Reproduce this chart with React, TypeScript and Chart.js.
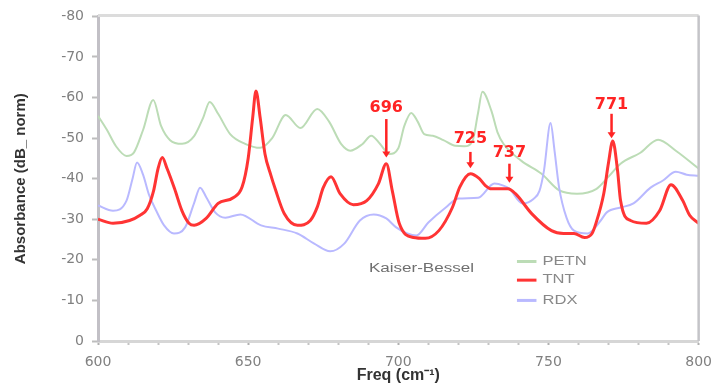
import React, { useEffect, useRef } from 'react';
import { Chart, registerables } from 'chart.js';
Chart.register(...registerables);

// ---- data ----
const seriesNames = ['PETN', 'TNT', 'RDX'];

const petnFreq = [600, 603, 606, 609.5, 612, 615, 618.4, 621, 624, 628, 632, 635, 637.2, 640, 644, 649, 654, 658, 662.5, 667.4, 673, 677, 681, 684, 688, 691, 694, 697, 700, 702, 704.3, 706.5, 708.6, 711.5, 715, 719, 722, 724.7, 726.5, 728, 731, 733, 735, 741, 747.7, 753.6, 759.5, 766, 770, 774, 780.6, 786.5, 792.4, 800];
const petnVals = [-55.5, -52, -48, -45.6, -46.5, -52, -59.4, -53, -49.5, -48.6, -50.5, -55, -58.9, -56, -51, -48.6, -47.6, -50, -55.7, -52.5, -57.2, -54, -48.5, -46.9, -48.5, -50.6, -48.5, -46.1, -47.5, -53, -56.2, -54, -51, -50.6, -49.5, -48.1, -48, -49.3, -56, -61.4, -56.7, -51.5, -48.6, -44.4, -41.2, -37.1, -36.3, -37.5, -40.5, -43.7, -46.4, -49.6, -46.9, -42.5];

const tntFreq = [600, 605, 610.5, 614, 616.4, 618.5, 620, 621.4, 623, 625.5, 628, 630.3, 632, 636, 640, 645, 648, 650, 651.5, 652.6, 654, 655.6, 657.5, 659, 662, 666.4, 670.7, 673, 675, 677.6, 680.6, 685, 689.5, 693.4, 696, 698, 700.3, 705, 709, 713.5, 718, 720.5, 724, 727, 729, 731, 733.5, 736.5, 739, 744.4, 751, 755, 758.5, 762, 764.5, 765.8, 768.4, 770, 771.4, 773, 774, 777.3, 782.6, 787, 790.8, 794.7, 797, 800];
const tntVals = [-30, -29, -29.7, -31, -32.6, -37, -42.5, -45.2, -42.5, -37.5, -32, -29, -28.5, -30.2, -33.9, -35.3, -38, -45, -55, -61.6, -55, -46.1, -41, -37.5, -31.4, -28.5, -29.7, -33, -37.8, -40.5, -36.3, -33.6, -34.6, -38.8, -43.7, -37, -29, -25.5, -25.3, -27.2, -32.9, -38, -41.2, -40, -38.3, -37.5, -37.5, -37.5, -36.3, -31.4, -27.2, -26.5, -26.5, -25.5, -26.5, -29, -36.3, -44, -49.3, -42, -34.6, -29.7, -29, -32.1, -38.5, -34.6, -31, -29];

const rdxFreq = [600, 605, 609.5, 611.5, 613, 615, 617, 619.4, 622, 625.3, 629, 632, 634, 636, 639, 642.4, 647.4, 654.3, 660, 666.4, 672, 677.3, 682, 687.2, 691.8, 696, 699.3, 703, 706, 710, 715.8, 720, 726.6, 732, 735, 737, 741.4, 745, 747, 748.5, 750.7, 752, 753.5, 756, 758.5, 763, 767.4, 769.4, 774, 778.3, 784, 788, 792.4, 796, 800];
const rdxVals = [-33.4, -32.1, -34.6, -40, -44, -41, -36, -32.1, -28.5, -26.5, -28, -34, -37.8, -35.5, -31.7, -30.4, -31.2, -28.5, -27.7, -26.5, -24, -22.1, -24, -29.7, -31.2, -30.2, -28, -26.5, -26, -29.2, -32.9, -35.1, -35.3, -38.8, -38.3, -37.5, -33.9, -35, -37, -42, -53.7, -47, -38, -30.4, -27.2, -26.5, -29.7, -31.7, -32.9, -33.9, -37.8, -39.5, -41.7, -41, -40.7];

// peak annotations
const annoLabels = ['696', '725', '737', '771'];
const annoFreq = [696, 724, 737, 771];
const annoLabelVal = [-57.4, -49.8, -46.3, -58.3];
const annoStartVal = [-54.7, -46.6, -43.7, -56];
const annoTipVal = [-45.2, -42.6, -39, -50];

const xTitle = 'Freq (cm⁻¹)';
const yTitle = 'Absorbance (dB_ norm)';
const windowNote = 'Kaiser-Bessel';

const COLORS = ['#bcdcb6', '#ff3434', '#b9b9ff'];
const WIDTHS = [2, 3, 2];

const toPts = (xs: number[], ys: number[]) => xs.map((x, i) => ({ x, y: ys[i] }));

const overlay = {
  id: 'overlay',
  afterDatasetsDraw(chart: any) {
    const { ctx, chartArea: a, scales } = chart;
    const x = scales.x, y = scales.y;
    ctx.save();
    // frame top and right
    ctx.strokeStyle = '#dcdcdc';
    ctx.lineWidth = 3;
    ctx.beginPath(); ctx.moveTo(a.left, a.top - 1); ctx.lineTo(a.right, a.top - 1); ctx.stroke();
    ctx.strokeStyle = '#c4c4c8';
    ctx.lineWidth = 2.5;
    ctx.beginPath(); ctx.moveTo(a.right, a.top - 1); ctx.lineTo(a.right, a.bottom); ctx.stroke();

    // annotations
    ctx.fillStyle = '#ff2424';
    ctx.strokeStyle = '#ff2424';
    ctx.font = 'bold 16px "DejaVu Sans"';
    ctx.textAlign = 'center';
    ctx.textBaseline = 'middle';
    annoLabels.forEach((lab, i) => {
      const px = x.getPixelForValue(annoFreq[i]);
      const ly = y.getPixelForValue(annoLabelVal[i]);
      const ys = y.getPixelForValue(annoStartVal[i]);
      const yt = y.getPixelForValue(annoTipVal[i]);
      ctx.fillText(lab, px, ly);
      ctx.lineWidth = 2.5;
      ctx.beginPath(); ctx.moveTo(px, ys); ctx.lineTo(px, yt - 5); ctx.stroke();
      ctx.beginPath();
      ctx.moveTo(px - 4, yt - 6); ctx.lineTo(px + 4, yt - 6); ctx.lineTo(px, yt); ctx.closePath();
      ctx.fill();
    });

    // custom legend
    const lx0 = x.getPixelForValue(739.5), lx1 = x.getPixelForValue(746);
    const legVals = [-19.6, -15, -10];
    ctx.textAlign = 'left';
    ctx.font = '12px Arial';
    seriesNames.forEach((n, i) => {
      const ly = y.getPixelForValue(legVals[i]);
      ctx.strokeStyle = COLORS[i];
      ctx.lineWidth = 3;
      ctx.beginPath(); ctx.moveTo(lx0, ly); ctx.lineTo(lx1, ly); ctx.stroke();
      ctx.save();
      ctx.translate(lx1 + 6, ly);
      ctx.scale(1.38, 1);
      ctx.fillStyle = '#888888';
      ctx.fillText(n, 0, 0);
      ctx.restore();
    });

    // window note
    ctx.save();
    ctx.translate(x.getPixelForValue(690.2), y.getPixelForValue(-17.8));
    ctx.scale(1.42, 1);
    ctx.fillStyle = '#6f6f6f';
    ctx.font = '12px Arial';
    ctx.textAlign = 'left';
    ctx.fillText(windowNote, 0, 0);
    ctx.restore();

    ctx.restore();
  },
};

export default function App() {
  const ref = useRef<HTMLCanvasElement>(null);
  useEffect(() => {
    if (!ref.current) return;
    const chart = new Chart(ref.current, {
      type: 'line',
      data: {
        datasets: [
          { label: seriesNames[0], data: toPts(petnFreq, petnVals), borderColor: COLORS[0], borderWidth: WIDTHS[0], order: 2 },
          { label: seriesNames[1], data: toPts(tntFreq, tntVals), borderColor: COLORS[1], borderWidth: WIDTHS[1], order: 0 },
          { label: seriesNames[2], data: toPts(rdxFreq, rdxVals), borderColor: COLORS[2], borderWidth: WIDTHS[2], order: 1 },
        ].map((d) => ({ ...d, pointRadius: 0, fill: false, cubicInterpolationMode: 'monotone' as const, tension: 0.4 })),
      },
      options: {
        animation: false,
        responsive: false,
        devicePixelRatio: 1,
        layout: { padding: { left: 0, right: 15, top: 15, bottom: 0 } },
        plugins: { legend: { display: false }, tooltip: { enabled: false } },
        scales: {
          x: {
            type: 'linear',
            min: 600,
            max: 800,
            afterFit: (s: any) => { s.height = 46; },
            ticks: {
              stepSize: 10,
              autoSkip: false,
              maxRotation: 0,
              padding: 9,
              color: '#808080',
              font: { family: '"DejaVu Sans"', size: 14 },
              callback: (v: any) => (Number(v) % 50 === 0 ? String(v) : ''),
            },
            grid: {
              drawOnChartArea: false,
              drawTicks: true,
              tickLength: 4,
              tickWidth: 2,
              tickColor: (c: any) => (c.tick && c.tick.value % 50 === 0 ? '#b0b0b0' : '#c4c4c4'),
            },
            border: { color: '#d6d6d6', width: 3 },
            title: {
              display: true,
              text: xTitle,
              color: '#333333',
              font: { family: 'Arial', size: 16, weight: 'bold' },
              padding: { top: 0, bottom: 2 },
            },
          },
          y: {
            type: 'linear',
            min: -80,
            max: 0,
            reverse: true,
            afterFit: (s: any) => { s.width = 98; },
            ticks: {
              stepSize: 10,
              padding: 8,
              color: '#808080',
              font: { family: '"DejaVu Sans"', size: 14 },
            },
            grid: {
              drawOnChartArea: false,
              drawTicks: true,
              tickLength: 6,
              tickWidth: 2,
              tickColor: '#bdbdbd',
            },
            border: { color: '#c2c0c6', width: 3 },
            title: {
              display: true,
              text: yTitle,
              color: '#333333',
              font: { family: 'Arial', size: 15, weight: 'bold' },
              padding: { top: 12, bottom: 0 },
            },
          },
        },
      },
      plugins: [overlay],
    });
    return () => chart.destroy();
  }, []);
  return (
    <div style={{ position: 'absolute', left: 0, top: 0, width: 721, height: 387, background: '#ffffff' }}>
      <canvas ref={ref} width={721} height={387} style={{ display: 'block' }} />
    </div>
  );
}
